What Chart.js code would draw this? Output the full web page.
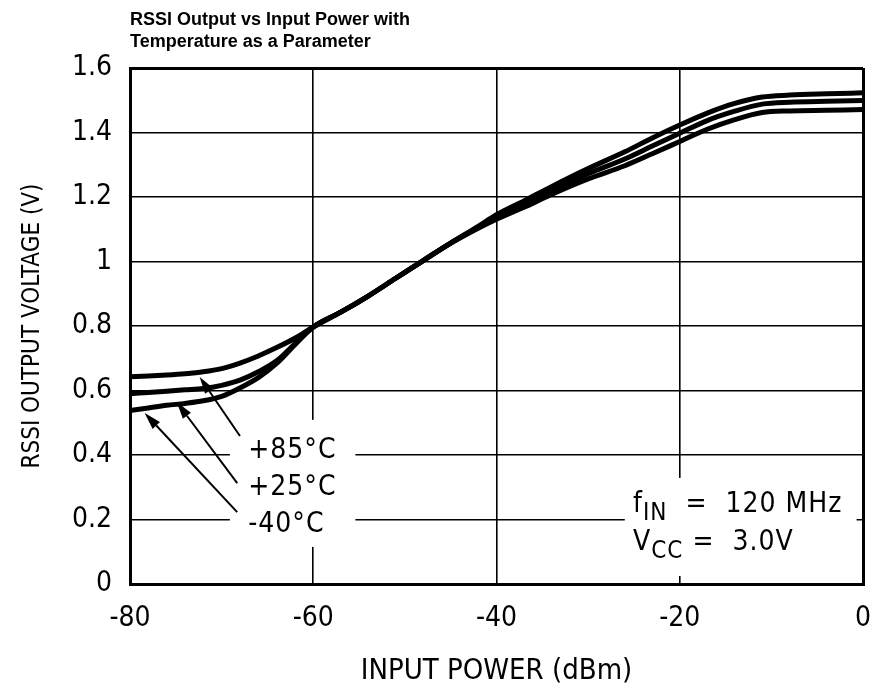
<!DOCTYPE html>
<html>
<head>
<meta charset="utf-8">
<script src="https://cdn.jsdelivr.net/npm/chart.js@4/dist/chart.umd.min.js"></script>
<style>
  body { margin: 0; background: #fff; }
  #wrap { width: 877px; height: 693px; }
</style>
</head>
<body>
<div id="wrap"><canvas id="rssiChart" width="877" height="693"></canvas></div>
<script>
// input power (dBm) and RSSI output (V)
const inputPower = [-80, -78, -76, -74, -72, -70, -68, -66, -64, -62, -60, -57, -54, -51, -48, -45, -42, -40, -37, -34, -30, -26, -23, -20, -17, -14, -11, -8, -4, 0];
const rssiPlus85 = [0.643, 0.645, 0.648, 0.652, 0.658, 0.668, 0.685, 0.707, 0.733, 0.762, 0.797, 0.843, 0.893, 0.948, 1.003, 1.057, 1.103, 1.131, 1.168, 1.208, 1.256, 1.297, 1.334, 1.372, 1.41, 1.44, 1.462, 1.467, 1.469, 1.471];
const rssiPlus25 = [0.590, 0.594, 0.598, 0.602, 0.606, 0.616, 0.632, 0.658, 0.692, 0.745, 0.797, 0.843, 0.893, 0.948, 1.003, 1.057, 1.106, 1.138, 1.178, 1.22, 1.272, 1.318, 1.358, 1.398, 1.437, 1.466, 1.488, 1.494, 1.497, 1.499];
const rssiMinus40 = [0.538, 0.546, 0.554, 0.560, 0.568, 0.582, 0.608, 0.640, 0.684, 0.742, 0.797, 0.843, 0.893, 0.948, 1.003, 1.057, 1.109, 1.145, 1.188, 1.232, 1.288, 1.34, 1.383, 1.423, 1.46, 1.49, 1.51, 1.516, 1.52, 1.523];

const xTickLabels = ['-80', '-60', '-40', '-20', '0'];
const yTickLabels = ['0', '0.2', '0.4', '0.6', '0.8', '1', '1.2', '1.4', '1.6'];
const tempLabels = ['+85°C', '+25°C', '-40°C'];

const titleLines = ['RSSI Output vs Input Power with', 'Temperature as a Parameter'];
const FONT = "'DejaVu Sans Condensed', 'Liberation Sans Narrow', 'DejaVu Sans', sans-serif";

const toPoints = ys => inputPower.map((x, i) => ({ x, y: ys[i] }));

// annotation layout, in data units
const whiteBoxes = [
  { x0: -69.1, x1: -55.4, y0: 0.115, y1: 0.509 },
  { x0: -26.0, x1: -0.7, y0: 0.025, y1: 0.329 }
];
const arrows = [
  { from: [-68.0, 0.459], to: [-72.4, 0.642] },
  { from: [-68.3, 0.313], to: [-74.9, 0.564] },
  { from: [-68.3, 0.223], to: [-78.4, 0.530] }
];
const labelPos = [[-67.1, 0.391], [-67.1, 0.276], [-67.1, 0.161]];

function drawArrow(ctx, x1, y1, x2, y2) {
  const a = Math.atan2(y2 - y1, x2 - x1);
  const len = 17, half = 5;
  const bx = x2 - len * Math.cos(a), by = y2 - len * Math.sin(a);
  ctx.beginPath();
  ctx.moveTo(x1, y1);
  ctx.lineTo(bx, by);
  ctx.stroke();
  ctx.beginPath();
  ctx.moveTo(x2, y2);
  ctx.lineTo(bx + half * Math.sin(a), by - half * Math.cos(a));
  ctx.lineTo(bx - half * Math.sin(a), by + half * Math.cos(a));
  ctx.closePath();
  ctx.fill();
}

// text runs with subscripts, e.g. f_IN
function drawRuns(ctx, runs, x, y) {
  runs.forEach(r => {
    ctx.font = (r.sub ? '24px ' : '28px ') + FONT;
    ctx.fillText(r.t, x, y + (r.sub ? 8 : 0));
    x += ctx.measureText(r.t).width;
  });
}

const overlay = {
  id: 'overlay',
  beforeDatasetsDraw(chart) {
    const { ctx, scales: { x, y } } = chart;
    ctx.save();
    ctx.fillStyle = '#fff';
    whiteBoxes.forEach(b => {
      const l = x.getPixelForValue(b.x0), r = x.getPixelForValue(b.x1);
      const t = y.getPixelForValue(b.y1), btm = y.getPixelForValue(b.y0);
      ctx.fillRect(l, t, r - l, btm - t);
    });
    ctx.restore();
  },
  afterDatasetsDraw(chart) {
    const { ctx, scales: { x, y } } = chart;
    ctx.save();
    ctx.strokeStyle = '#000';
    ctx.fillStyle = '#000';
    ctx.lineWidth = 2;
    arrows.forEach(a => drawArrow(ctx,
      x.getPixelForValue(a.from[0]), y.getPixelForValue(a.from[1]),
      x.getPixelForValue(a.to[0]), y.getPixelForValue(a.to[1])));

    ctx.textBaseline = 'alphabetic';
    ctx.textAlign = 'left';
    ctx.letterSpacing = '1px';
    ctx.font = '28px ' + FONT;
    tempLabels.forEach((t, i) => {
      ctx.fillText(t, x.getPixelForValue(labelPos[i][0]), y.getPixelForValue(labelPos[i][1]));
    });

    const cx = x.getPixelForValue(-25.1);
    drawRuns(ctx, [{ t: 'f' }, { t: 'IN', sub: true }, { t: '  = ' }, { t: ' 120 MHz' }], cx, y.getPixelForValue(0.223));
    drawRuns(ctx, [{ t: 'V' }, { t: 'CC', sub: true }, { t: ' = ' }, { t: ' 3.0V' }], cx, y.getPixelForValue(0.105));
    ctx.restore();
  },
  afterDraw(chart) {
    const { ctx, chartArea } = chart;
    ctx.save();
    ctx.fillStyle = '#000';
    ctx.font = "bold 18px 'Liberation Sans', Arial, sans-serif";
    ctx.textAlign = 'left';
    ctx.fillText(titleLines[0], chartArea.left, 25);
    ctx.fillText(titleLines[1], chartArea.left, 47);
    ctx.restore();
  }
};

const series = [rssiPlus85, rssiPlus25, rssiMinus40];

new Chart(document.getElementById('rssiChart'), {
  type: 'line',
  data: {
    datasets: series.map((ys, i) => ({
      label: tempLabels[i],
      data: toPoints(ys),
      borderColor: '#000',
      borderWidth: 5,
      pointRadius: 0,
      fill: false,
      cubicInterpolationMode: 'monotone'
    }))
  },
  options: {
    responsive: false,
    animation: false,
    layout: { padding: { top: 68, right: 14, left: 0, bottom: 0 } },
    plugins: { legend: { display: false }, tooltip: { enabled: false }, title: { display: false } },
    scales: {
      x: {
        type: 'linear',
        min: -80, max: 0,
        afterFit: s => { s.height = 109; s.paddingRight = 0; },
        ticks: {
          stepSize: 20,
          color: '#000',
          padding: 18,
          font: { family: FONT, size: 28 },
          callback: (v, i) => xTickLabels[i]
        },
        grid: {
          color: '#000',
          drawTicks: false,
          lineWidth: c => (c.index === 0 || c.index === xTickLabels.length - 1) ? 3 : 1.6
        },
        border: { color: '#000', width: 3 },
        title: {
          display: true,
          text: 'INPUT POWER (dBm)',
          color: '#000',
          font: { family: FONT, size: 29 },
          padding: { top: 0, bottom: 4 }
        }
      },
      y: {
        min: 0, max: 1.6,
        afterFit: s => { s.width = 130; },
        ticks: {
          stepSize: 0.2,
          color: '#000',
          padding: 18,
          font: { family: FONT, size: 28 },
          callback: (v, i) => yTickLabels[i]
        },
        grid: {
          color: '#000',
          drawTicks: false,
          lineWidth: c => (c.index === 0 || c.index === yTickLabels.length - 1) ? 3 : 1.6
        },
        border: { color: '#000', width: 3 },
        title: {
          display: true,
          text: 'RSSI OUTPUT VOLTAGE (V)',
          color: '#000',
          font: { family: FONT, size: 24 },
          padding: { top: 18, bottom: 0 }
        }
      }
    }
  },
  plugins: [overlay]
});
</script>
</body>
</html>
